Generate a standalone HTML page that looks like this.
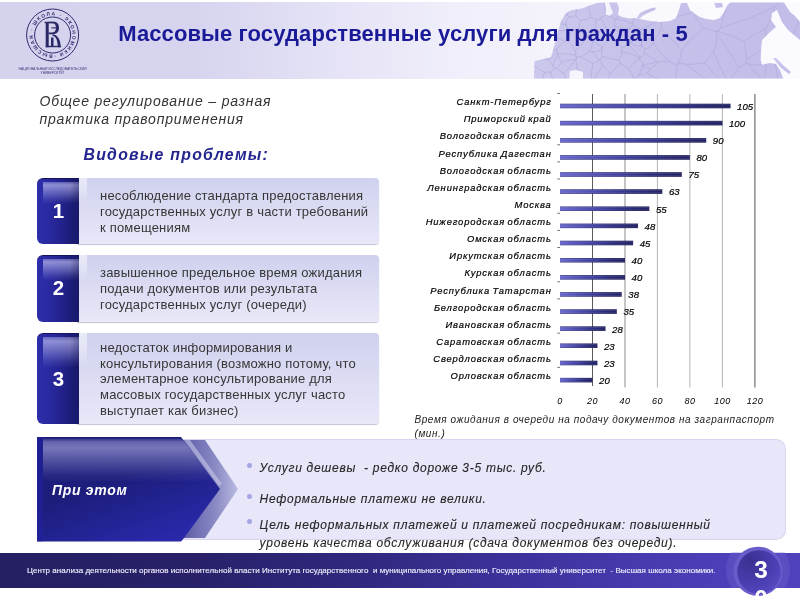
<!DOCTYPE html>
<html lang="ru"><head><meta charset="utf-8">
<title>Массовые государственные услуги для граждан - 5</title>
<style>
*{margin:0;padding:0;box-sizing:border-box}
html,body{width:800px;height:600px;overflow:hidden;background:#fff}
body{position:relative;font-family:"Liberation Sans",Arial,"Noto Sans CJK SC",sans-serif;color:#333}
.a{position:absolute;white-space:nowrap}
#hdr{left:0;top:2px;width:800px;height:76.5px;background:linear-gradient(90deg,#d5d2ee 0%,#d7d4f0 25%,#dfddf3 35%,#e8e6f7 46%,#efeefa 56%,#f3f2fb 66%,#f8f8fd 80%,#fafaff 100%)}
#title{left:118.2px;top:21.1px;font-size:22px;line-height:25px;font-weight:bold;color:#1a1a98;letter-spacing:0.11px}
#intro{left:39.5px;top:91.5px;font-size:14px;font-style:italic;line-height:18.6px;color:#333;letter-spacing:0.81px}
#vid{left:83.5px;top:145.6px;font-size:15.8px;line-height:18px;font-style:italic;font-weight:bold;color:#24248f;letter-spacing:1.27px}
.box{position:absolute;left:37px;width:342px}
.box .lt{position:absolute;left:40px;right:0;top:0;bottom:0;border-radius:0 4px 4px 0;background:linear-gradient(180deg,#cfd1ee 0%,#d9daf2 40%,#e9e8f9 100%);box-shadow:0 1px 1px rgba(120,120,170,.45)}
.box .lt:before{content:"";position:absolute;left:2.3px;top:0;width:8.2px;height:36%;background:linear-gradient(180deg,rgba(255,255,255,.55),rgba(255,255,255,.35) 50%,rgba(255,255,255,0))}
.box .bl{position:absolute;left:0;top:0;bottom:0;width:42.3px;border-radius:6px 0 0 6px;background:linear-gradient(90deg,#2e2eac 0%,#2a2aa2 25%,#232390 55%,#1b1b74 85%,#18186a 100%);border-top:1.5px solid #15155e;overflow:hidden}
.box .bl:before{content:"";position:absolute;left:5.7px;right:0;top:3px;height:34%;background:linear-gradient(90deg,rgba(20,20,90,0) 75%,rgba(20,20,90,.3) 100%),linear-gradient(180deg,rgba(196,196,245,.4) 0%,rgba(196,196,245,.66) 14%,rgba(180,180,238,.45) 45%,rgba(160,160,230,.15) 80%,rgba(150,150,220,0) 100%)}
.box .n{position:absolute;left:0.4px;width:42.3px;text-align:center;color:#fff;font-weight:bold;font-size:20.5px;line-height:20.5px}
.box .t{position:absolute;left:63px;font-size:13px;line-height:16.2px;color:#363636;letter-spacing:0.2px}
#chart text{font-family:"Liberation Sans",Arial,sans-serif;font-style:italic;fill:#000;stroke:#000;stroke-width:0.2px}
#chart .cl{font-size:9.4px;letter-spacing:0.85px;word-spacing:-1px}
#chart .vl{font-size:9.6px}
#chart .al{font-size:9px;letter-spacing:0.5px;stroke:none}
#cap{left:414.5px;top:413px;font-size:10px;font-style:italic;line-height:14px;color:#222;letter-spacing:0.57px}
.bt{position:absolute;font-size:12px;font-style:italic;color:#262626;letter-spacing:0.72px;white-space:nowrap;-webkit-text-stroke:0.12px #262626}
.dot{position:absolute;width:4.6px;height:4.6px;border-radius:50%;background:#a6a6e6}
#ftr{left:0;top:552.5px;width:800px;height:35.5px;background:linear-gradient(90deg,#251f63 0%,#28216a 25%,#30287e 45%,#3d329c 65%,#4a3db4 85%,#5042bc 100%)}
#ftxt{left:27px;top:566px;font-size:8px;line-height:10px;color:#eeeefc;letter-spacing:0.035px;-webkit-text-stroke:0.15px #eeeefc}
</style></head>
<body>
<div class="a" id="hdr"></div>

<!-- map of Russia (stylised) -->
<svg class="a" style="left:0;top:0" width="800" height="80" viewBox="0 0 800 80">
  <defs>
    <linearGradient id="mapg" x1="0" y1="0" x2="1" y2="0">
      <stop offset="0" stop-color="#cbc8ed"/>
      <stop offset="0.4" stop-color="#c6c2ea"/>
      <stop offset="1" stop-color="#c1bde8"/>
    </linearGradient>
    <clipPath id="mclip"><path d="M534 78.5 L534.5 61 L540 60 L545.5 58.5 L551 57 L554.5 45 L556 38 L558.5 30 L561 21 L566 13 L572 10 L582 8.5 L591 5 L597 3 L604 2.6 L617 2.6 L619 8 L618 15 L622 17 L630 18.5 L636 18 L640 19 L650 21 L660 22 L670 21 L676 18 L679 10 L681 3 L687 3 L690 10 L695 14 L700 17 L706 19 L714 20 L720 18 L724 12 L727 6 L730 2.5 L784 2.5 L790 12 L795 16 L800 22 L800 40 L788 30 L782 22 L777 10 L772 13 L771 20 L776 27 L770 32 L762 40 L761 50 L760.7 60 L762 65 L770 63 L776 64 L780 70 L783 78.5 L583 78.5 L583 72 L576 70 L569.5 71 L569.5 78.5 Z"/></clipPath>
  </defs>
  <path fill="url(#mapg)" d="M534 78.5 L534.5 61 L540 60 L545.5 58.5 L551 57 L554.5 45 L556 38 L558.5 30 L561 21 L566 13 L572 10 L582 8.5 L591 5 L597 3 L604 2.6 L617 2.6 L619 8 L618 15 L622 17 L630 18.5 L636 18 L640 19 L650 21 L660 22 L670 21 L676 18 L679 10 L681 3 L687 3 L690 10 L695 14 L700 17 L706 19 L714 20 L720 18 L724 12 L727 6 L730 2.5 L784 2.5 L790 12 L795 16 L800 22 L800 40 L788 30 L782 22 L777 10 L772 13 L771 20 L776 27 L770 32 L762 40 L761 50 L760.7 60 L762 65 L770 63 L776 64 L780 70 L783 78.5 L583 78.5 L583 72 L576 70 L569.5 71 L569.5 78.5 Z"/>
  <path fill="url(#mapg)" d="M773 58 L776 58 L784 66 L791 72 L789 74 L781 68 Z"/>
  <path fill="url(#mapg)" d="M636.8 18 L640 13 L646 10 L652 8 L656 7.5 L655 10 L649 12.5 L643 15.5 L639 19 Z"/>
  <path fill="url(#mapg)" d="M714 3 L722 3 L723 7 L716 8 Z"/>
  <path fill="#f6f5fc" d="M604 2 L609 2 L611 8 L613 13 L609 16 L605 15 L606 9 Z"/>
  <g fill="none" stroke="#aeaadb" stroke-width="0.6" clip-path="url(#mclip)"><path d="M897.9 40.0 L897.9 40.3 L900.0 40.0 M897.9 40.0 L880.1 27.0 L860.0 12.1 M940.0 0.0 L920.5 19.7 L900.0 40.0 M820.0 -3.2 L840.6 4.7 L860.0 12.1 M980.0 -40.0 L959.9 -19.2 L940.0 0.0 M695.3 -25.8 L693.4 -6.2 L693.6 12.2 M703.2 28.0 L697.3 20.3 L693.6 12.2 M720.2 28.3 L728.4 0.2 L736.7 -26.7 M703.2 28.0 L710.4 29.8 L716.6 31.7 M720.2 28.3 L718.9 30.9 L717.1 31.4 M716.6 31.7 L716.3 30.4 L717.1 31.4 M820.0 -3.2 L813.8 -2.9 L808.5 -3.5 M808.5 -3.5 L796.9 -6.4 L786.6 -7.7 M860.0 75.9 L879.9 58.3 L897.9 40.0 M832.0 89.7 L808.5 74.3 L785.3 57.1 M860.0 75.9 L845.6 83.2 L832.0 89.7 M808.5 -3.5 L796.2 26.6 L785.3 57.1 M720.2 28.3 L748.4 18.5 L775.1 6.6 M786.6 -7.7 L781.8 -0.8 L775.1 6.6 M744.7 41.1 L731.1 35.8 L717.1 31.4 M744.7 41.1 L754.5 34.6 L765.9 28.1 M775.1 6.6 L771.3 18.2 L765.9 28.1 M693.6 12.2 L677.3 16.6 L660.0 18.9 M660.0 18.9 L650.0 1.6 L641.0 -14.2 M980.0 120.0 L959.9 99.5 L940.0 80.0 M900.0 40.0 L919.3 59.8 L940.0 80.0 M631.0 43.0 L635.4 38.2 L639.1 33.5 M631.0 43.0 L635.8 45.5 L641.5 46.4 M639.1 33.5 L641.5 39.4 L641.6 45.6 M641.5 46.4 L640.5 44.9 L641.6 45.6 M661.4 28.7 L661.5 23.1 L659.8 19.7 M661.4 28.7 L658.0 34.9 L653.6 40.7 M659.8 19.7 L649.6 25.3 L640.3 29.5 M653.6 40.7 L647.8 38.1 L644.4 37.3 M644.4 37.3 L642.2 33.4 L640.2 31.9 M640.2 31.9 L641.0 30.0 L640.3 29.5 M703.2 28.0 L691.6 38.1 L681.7 50.3 M681.7 50.3 L671.9 39.4 L661.4 28.7 M660.0 18.9 L660.2 19.7 L659.8 19.7 M653.2 42.8 L649.8 47.3 L644.9 49.7 M653.2 42.8 L653.8 41.0 L653.6 40.7 M644.9 49.7 L643.1 47.3 L641.5 46.4 M641.6 45.6 L641.8 41.4 L644.4 37.3 M639.1 33.5 L640.2 31.9 L640.2 31.9 M686.4 64.7 L706.3 79.6 L727.3 95.3 M704.3 63.0 L695.8 63.9 L686.4 64.7 M704.3 63.0 L716.5 75.9 L728.2 87.6 M765.9 28.1 L766.0 37.1 L766.5 44.7 M785.3 57.1 L781.0 57.3 L774.7 59.5 M774.7 59.5 L771.7 52.7 L766.5 44.7 M784.7 106.5 L778.7 83.1 L774.5 59.9 M774.7 59.5 L774.9 60.7 L774.5 59.9 M744.7 41.1 L745.5 50.2 L746.9 58.9 M766.5 44.7 L757.6 52.5 L746.9 58.9 M678.3 63.1 L683.4 63.8 L686.4 64.7 M678.3 63.1 L678.1 62.9 L677.2 64.2 M673.7 86.0 L676.0 75.8 L677.2 64.2 M681.7 50.3 L680.4 57.2 L678.3 63.1 M653.2 42.8 L661.2 53.5 L670.6 62.3 M670.6 62.3 L675.0 64.4 L677.2 64.2 M637.2 -6.1 L635.1 9.7 L632.9 24.0 M637.2 -6.1 L626.1 7.4 L615.9 18.8 M615.9 18.8 L625.3 21.1 L632.9 24.0 M640.3 29.5 L635.8 27.2 L633.3 25.3 M632.9 24.0 L633.2 25.3 L633.3 25.3 M629.9 28.3 L631.6 25.7 L633.3 25.3 M629.9 28.3 L629.5 29.6 L627.6 32.9 M631.0 43.0 L630.6 42.5 L628.8 43.5 M627.6 32.9 L627.8 38.9 L628.8 43.5 M729.2 84.6 L733.2 75.2 L738.9 67.5 M729.2 84.6 L721.3 69.1 L713.3 52.5 M738.9 67.5 L728.7 50.9 L716.9 33.4 M713.3 52.5 L716.2 42.9 L716.9 33.4 M704.3 63.0 L709.9 56.7 L713.3 52.5 M728.2 87.6 L728.0 86.2 L729.2 84.6 M716.6 31.7 L716.2 33.1 L716.9 33.4 M746.9 58.9 L746.5 61.2 L745.4 63.4 M745.4 63.4 L743.0 65.6 L738.9 67.5 M763.6 80.8 L755.5 72.2 L748.2 64.1 M763.6 80.8 L765.6 73.4 L766.0 64.2 M766.0 64.2 L756.4 65.0 L748.2 64.1 M771.0 107.5 L768.4 94.2 L763.6 80.8 M745.4 63.4 L747.0 63.1 L748.2 64.1 M774.5 59.9 L770.3 62.0 L766.0 64.2 M673.7 86.0 L662.9 80.0 L651.6 76.4 M633.1 90.6 L643.5 83.5 L651.6 76.4 M622.1 47.5 L624.9 46.5 L628.1 44.1 M628.1 44.1 L634.1 50.6 L639.8 57.2 M621.7 52.1 L631.0 53.9 L639.3 57.9 M621.7 52.1 L622.0 49.6 L622.1 47.5 M639.3 57.9 L640.6 58.5 L639.8 57.2 M628.8 43.5 L627.9 43.8 L628.1 44.1 M644.9 49.7 L643.9 51.3 L644.7 53.2 M639.8 57.2 L643.0 56.1 L644.7 53.2 M541.4 26.5 L543.3 25.0 L545.4 24.4 M541.4 26.5 L539.4 24.4 L538.9 21.7 M545.4 24.4 L547.3 19.6 L547.2 16.5 M538.9 21.7 L540.2 17.0 L540.2 14.5 M540.2 14.5 L543.0 14.9 L547.2 16.5 M510.2 -16.4 L525.7 -1.4 L540.2 14.5 M504.3 36.0 L521.3 29.2 L538.9 21.7 M542.5 35.4 L545.9 33.7 L551.2 31.0 M542.5 35.4 L539.4 33.9 L538.1 32.4 M551.2 31.0 L545.6 28.4 L541.1 27.3 M538.1 32.4 L539.7 29.7 L541.1 27.3 M504.3 36.0 L520.9 34.0 L538.1 32.4 M541.4 26.5 L541.3 26.1 L541.1 27.3 M552.9 30.5 L551.3 31.0 L551.2 31.0 M552.9 30.5 L553.9 34.2 L554.2 37.8 M554.2 37.8 L552.7 40.8 L549.4 43.3 M542.5 35.4 L544.5 38.1 L544.7 42.1 M544.7 42.1 L547.7 43.4 L549.4 43.3 M615.9 18.8 L616.4 18.7 L614.8 19.4 M629.9 28.3 L622.1 28.2 L615.1 26.1 M615.1 26.1 L614.3 24.0 L614.8 19.4 M627.6 32.9 L621.8 31.1 L614.1 31.1 M615.1 26.1 L614.0 29.1 L614.1 31.1 M602.9 -25.0 L603.7 -6.1 L605.7 14.8 M605.7 14.8 L611.0 16.9 L614.8 19.4 M532.8 -25.1 L543.1 -7.4 L552.1 12.0 M547.2 16.5 L547.8 16.9 L548.9 16.3 M552.1 12.0 L549.3 13.5 L548.9 16.3 M569.9 -25.5 L565.5 -6.9 L560.2 9.8 M552.1 12.0 L557.3 10.0 L560.2 9.8 M579.2 -26.6 L573.2 -5.0 L567.2 15.4 M567.2 15.4 L564.5 14.4 L561.7 12.6 M560.2 9.8 L560.2 10.1 L561.7 12.6 M580.1 21.0 L576.9 17.1 L575.7 15.3 M580.1 21.0 L579.3 25.1 L578.3 29.1 M578.3 29.1 L574.1 30.0 L569.5 32.5 M569.1 16.6 L566.7 20.1 L565.7 25.1 M569.1 16.6 L573.2 17.1 L575.7 15.3 M565.7 25.1 L567.4 26.7 L567.0 30.1 M567.0 30.1 L567.2 32.4 L569.5 32.5 M581.3 -19.8 L578.4 -1.6 L575.7 15.3 M581.3 -19.8 L585.9 -1.2 L591.3 17.5 M591.3 17.5 L585.8 19.1 L580.1 21.0 M575.3 51.2 L571.7 44.8 L567.5 40.8 M567.5 40.8 L569.0 37.5 L569.5 32.5 M588.0 36.4 L582.4 32.7 L578.3 29.1 M588.0 36.4 L582.2 43.6 L575.3 51.2 M567.2 15.4 L567.4 15.2 L569.1 16.6 M603.0 56.6 L601.4 57.2 L599.8 60.2 M603.0 56.6 L612.0 59.0 L619.2 60.0 M599.8 60.2 L601.7 63.6 L602.7 65.4 M602.7 65.4 L606.7 69.5 L610.2 74.1 M610.2 74.1 L615.3 68.5 L620.0 62.9 M619.2 60.0 L620.7 62.2 L620.0 62.9 M601.1 105.0 L605.1 90.5 L610.2 74.1 M633.1 90.6 L634.0 85.7 L633.8 79.5 M628.7 68.7 L632.0 73.9 L633.8 79.5 M628.7 68.7 L625.3 66.7 L620.0 62.9 M621.7 52.1 L620.9 56.7 L619.2 60.0 M639.3 57.9 L639.8 58.2 L639.0 58.9 M628.7 68.7 L634.4 62.8 L639.0 58.9 M633.8 79.5 L636.2 77.3 L639.3 75.2 M651.6 76.4 L648.6 74.1 L647.9 72.5 M647.9 72.5 L643.9 74.2 L639.3 75.2 M534.1 109.9 L538.7 92.3 L544.6 72.6 M544.6 72.6 L548.0 71.9 L550.6 72.1 M560.1 108.1 L555.7 90.2 L550.6 72.1 M602.7 65.4 L597.2 74.2 L591.7 83.5 M589.2 104.8 L591.6 94.5 L591.7 83.5 M575.4 59.5 L570.0 67.1 L563.6 73.4 M575.4 59.5 L576.7 58.2 L575.7 59.3 M577.1 107.4 L570.6 91.0 L563.6 73.4 M585.1 105.6 L579.8 82.2 L575.7 59.3 M563.6 73.4 L558.9 70.0 L556.4 68.1 M575.4 59.5 L568.0 60.2 L561.2 62.9 M561.2 62.9 L558.2 66.5 L556.4 68.1 M550.6 72.1 L552.4 70.2 L553.9 68.2 M556.4 68.1 L556.3 68.3 L553.9 68.2 M622.1 47.5 L618.0 43.6 L611.5 39.0 M614.1 31.1 L613.4 32.9 L611.2 36.7 M611.5 39.0 L611.6 38.5 L611.2 36.7 M602.0 48.4 L601.4 53.6 L603.0 56.6 M602.0 48.4 L601.3 47.7 L602.2 47.1 M611.5 39.0 L606.1 43.0 L602.2 47.1 M548.9 16.3 L551.0 17.3 L552.6 20.3 M561.7 12.6 L561.6 15.8 L559.3 19.5 M559.3 19.5 L556.0 20.2 L552.6 20.3 M545.4 24.4 L548.8 26.4 L553.0 29.3 M552.6 20.3 L553.2 25.0 L553.0 29.3 M552.9 30.5 L552.5 30.7 L553.2 29.9 M553.0 29.3 L552.6 28.4 L553.2 29.9 M554.2 37.8 L559.0 38.5 L564.9 41.4 M564.9 41.4 L565.4 41.7 L567.5 40.8 M567.0 30.1 L560.1 30.9 L553.7 29.8 M553.2 29.9 L554.0 28.7 L553.7 29.8 M642.8 64.3 L650.9 63.8 L656.7 61.1 M642.8 64.3 L641.9 65.9 L643.0 65.6 M643.0 65.6 L646.4 67.1 L650.0 68.8 M650.0 68.8 L655.4 64.8 L658.5 62.0 M658.5 62.0 L657.6 62.6 L656.7 61.1 M639.0 58.9 L641.5 61.5 L642.8 64.3 M644.7 53.2 L651.8 57.9 L656.7 61.1 M639.3 75.2 L641.4 69.5 L643.0 65.6 M647.9 72.5 L649.2 70.5 L650.0 68.8 M670.6 62.3 L663.8 61.0 L658.5 62.0 M598.6 60.5 L595.3 55.2 L592.0 51.7 M598.6 60.5 L595.5 62.3 L592.8 63.3 M592.8 63.3 L586.6 59.7 L580.7 57.2 M580.7 57.2 L585.1 54.0 L589.2 51.2 M589.2 51.2 L591.2 51.6 L592.0 51.7 M602.0 48.4 L598.2 51.2 L592.0 51.7 M599.8 60.2 L599.7 59.7 L598.6 60.5 M591.7 83.5 L591.3 74.4 L592.8 63.3 M576.7 57.0 L576.9 58.4 L575.7 59.3 M576.7 57.0 L578.4 56.5 L580.7 57.2 M575.8 54.9 L576.0 53.2 L575.3 51.2 M592.3 41.5 L590.8 39.3 L588.8 36.5 M588.0 36.4 L589.0 35.7 L588.8 36.5 M575.8 54.9 L575.7 57.1 L576.7 57.0 M592.3 41.5 L591.7 47.3 L589.2 51.2 M602.2 47.1 L596.1 43.3 L592.3 41.5 M544.7 42.1 L541.0 44.4 L538.3 47.0 M538.3 47.0 L523.2 52.2 L507.4 59.3 M544.6 72.6 L534.5 66.3 L524.3 62.0 M549.4 43.3 L549.4 45.7 L551.4 47.2 M538.3 47.0 L542.7 49.8 L546.9 51.9 M551.4 47.2 L548.8 49.5 L546.9 51.9 M564.9 41.4 L559.8 45.4 L556.1 50.2 M551.4 47.2 L554.3 49.5 L556.1 50.2 M524.3 62.0 L534.0 59.5 L545.8 58.8 M546.9 51.9 L547.1 55.6 L545.8 58.8 M595.3 30.5 L602.8 32.4 L609.0 35.6 M595.3 30.5 L595.5 24.6 L596.1 19.9 M609.0 35.6 L605.5 26.4 L600.5 17.9 M596.1 19.9 L598.6 20.0 L600.5 17.9 M611.2 36.7 L609.7 36.2 L609.0 35.6 M588.8 36.5 L592.7 34.5 L595.3 30.5 M591.3 17.5 L593.5 18.4 L596.1 19.9 M605.7 14.8 L602.1 17.2 L600.5 17.9 M565.7 25.1 L560.7 23.9 L557.8 24.7 M565.7 25.1 L562.9 22.7 L559.8 20.3 M559.8 20.3 L559.2 22.0 L557.8 24.7 M565.7 25.1 L566.4 24.1 L565.7 25.1 M553.7 29.8 L555.0 27.6 L557.8 24.7 M559.3 19.5 L558.5 19.4 L559.8 20.3 M556.7 52.5 L553.2 56.6 L548.5 59.8 M556.7 52.5 L556.8 52.2 L558.0 53.7 M558.0 53.7 L557.8 54.9 L558.2 55.0 M558.2 55.0 L555.2 59.6 L552.8 66.0 M552.8 66.0 L551.2 63.1 L548.5 59.8 M556.1 50.2 L557.4 52.4 L556.7 52.5 M545.8 58.8 L548.1 59.1 L548.5 59.8 M575.8 54.9 L567.6 53.8 L558.0 53.7 M561.2 62.9 L559.3 58.7 L558.2 55.0 M553.9 68.2 L554.4 68.1 L552.8 66.0"/></g>
</svg>

<!-- logo -->
<svg class="a" style="left:0;top:0" width="110" height="80" viewBox="0 0 110 80">
  <defs><path id="ring" d="M52.6 54.7 A19.7 19.7 0 1 1 52.61 54.7"/></defs>
  <circle cx="52.6" cy="35" r="26" fill="none" stroke="#2d2b6e" stroke-width="1"/>
  <circle cx="52.6" cy="35" r="18" fill="none" stroke="#2d2b6e" stroke-width="1"/>
  <text font-family="Liberation Sans, sans-serif" font-size="4.9" font-weight="bold" fill="#2d2b6e"><textPath href="#ring" textLength="122" lengthAdjust="spacing">ВЫСШАЯ · ШКОЛА · ЭКОНОМИКИ ·</textPath></text>
  <g fill="#2a2866">
    <rect x="44.6" y="21.8" width="9.5" height="1.4"/>
    <rect x="45.7" y="22.5" width="3" height="24.8"/>
    <path d="M48.5 21.8 L53.5 21.8 C57.5 21.8 59 24.5 59 28 C59 31.5 56.8 34.2 52.5 34.2 L48.5 34.2 L48.5 32.4 L52.3 32.4 C54.8 32.4 55.9 30.5 55.9 28 C55.9 25.3 54.8 23.3 52.8 23.3 L48.5 23.3 Z"/>
    <rect x="51.3" y="27.3" width="4.8" height="1.1"/>
    <rect x="51" y="37.5" width="2.5" height="9.5"/>
    <path d="M52.5 34.2 C56.5 34.6 59.3 38 60.1 42 L60.9 47.2 L57.9 47.2 L57.3 42.2 C56.8 38.6 55.2 36.2 52.5 35.8 Z"/>
    <rect x="45.7" y="45.8" width="15.2" height="1.4"/>
  </g>
  <text x="52.6" y="69.6" text-anchor="middle" font-family="Liberation Sans, sans-serif" font-size="3.1" fill="#3a3878" textLength="68" lengthAdjust="spacingAndGlyphs">НАЦИОНАЛЬНЫЙ ИССЛЕДОВАТЕЛЬСКИЙ</text>
  <text x="52.6" y="73.8" text-anchor="middle" font-family="Liberation Sans, sans-serif" font-size="3.1" fill="#3a3878" textLength="24" lengthAdjust="spacingAndGlyphs">УНИВЕРСИТЕТ</text>
</svg>

<div class="a" id="title">Массовые государственные услуги для граждан - 5</div>

<div class="a" id="intro">Общее регулирование – разная<br>практика правоприменения</div>
<div class="a" id="vid">Видовые проблемы:</div>

<div class="box" style="top:177.6px;height:66.6px">
  <div class="lt"></div><div class="bl"></div>
  <div class="n" style="top:23.75px">1</div>
  <div class="t" style="top:10.7px;line-height:16px">несоблюдение стандарта предоставления<br>государственных услуг в части требований<br>к помещениям</div>
</div>
<div class="box" style="top:254.7px;height:67px">
  <div class="lt"></div><div class="bl"></div>
  <div class="n" style="top:23.3px">2</div>
  <div class="t" style="top:10px">завышенное предельное время ожидания<br>подачи документов или результата<br>государственных услуг (очереди)</div>
</div>
<div class="box" style="top:333.4px;height:91px">
  <div class="lt"></div><div class="bl"></div>
  <div class="n" style="top:36px">3</div>
  <div class="t" style="top:6.8px;line-height:15.6px">недостаток информирования и<br>консультирования (возможно потому, что<br>элементарное консультирование для<br>массовых государственных услуг часто<br>выступает как бизнес)</div>
</div>

<!-- CHART -->
<svg class="a" id="chart" style="left:0;top:0" width="800" height="420" viewBox="0 0 800 420">
  <defs>
    <linearGradient id="barg" x1="0" y1="0" x2="1" y2="0">
      <stop offset="0" stop-color="#5e5ecc"/>
      <stop offset="0.4" stop-color="#3a3aa4"/>
      <stop offset="0.75" stop-color="#1e1e74"/>
      <stop offset="1" stop-color="#121258"/>
    </linearGradient>
    <linearGradient id="barv" x1="0" y1="0" x2="0" y2="1">
      <stop offset="0" stop-color="#0c0c40" stop-opacity="0.55"/>
      <stop offset="0.4" stop-color="#fff" stop-opacity="0.08"/>
      <stop offset="0.6" stop-color="#fff" stop-opacity="0.05"/>
      <stop offset="1" stop-color="#0c0c40" stop-opacity="0.55"/>
    </linearGradient>
  </defs>
  <g id="chartbody">
  <line x1="592.5" y1="94" x2="592.5" y2="386" stroke="#5a5a5a" stroke-width="1"/>
  <line x1="625.0" y1="94" x2="625.0" y2="387.5" stroke="#8c8c8c" stroke-width="1"/>
  <line x1="657.4" y1="94" x2="657.4" y2="387.5" stroke="#b4b4b4" stroke-width="1"/>
  <line x1="689.9" y1="94" x2="689.9" y2="387.5" stroke="#b4b4b4" stroke-width="1"/>
  <line x1="722.4" y1="94" x2="722.4" y2="387.5" stroke="#b4b4b4" stroke-width="1"/>
  <line x1="754.9" y1="94" x2="754.9" y2="387.5" stroke="#7a7a7a" stroke-width="1.3"/>
  <rect x="560.0" y="103.8" width="170.5" height="4.4" fill="url(#barg)"/>
  <rect x="560.0" y="103.8" width="170.5" height="4.4" fill="url(#barv)"/>
  <text x="551.7" y="105.1" text-anchor="end" class="cl">Санкт-Петербург</text>
  <text x="737.1" y="109.8" class="vl">105</text>
  <rect x="560.0" y="120.9" width="162.4" height="4.4" fill="url(#barg)"/>
  <rect x="560.0" y="120.9" width="162.4" height="4.4" fill="url(#barv)"/>
  <text x="551.7" y="122.2" text-anchor="end" class="cl">Приморский край</text>
  <text x="729.0" y="126.9" class="vl">100</text>
  <rect x="560.0" y="138.1" width="146.2" height="4.4" fill="url(#barg)"/>
  <rect x="560.0" y="138.1" width="146.2" height="4.4" fill="url(#barv)"/>
  <text x="551.7" y="139.4" text-anchor="end" class="cl">Вологодская область</text>
  <text x="712.8" y="144.1" class="vl">90</text>
  <rect x="560.0" y="155.2" width="129.9" height="4.4" fill="url(#barg)"/>
  <rect x="560.0" y="155.2" width="129.9" height="4.4" fill="url(#barv)"/>
  <text x="551.7" y="156.5" text-anchor="end" class="cl">Республика Дагестан</text>
  <text x="696.5" y="161.2" class="vl">80</text>
  <rect x="560.0" y="172.3" width="121.8" height="4.4" fill="url(#barg)"/>
  <rect x="560.0" y="172.3" width="121.8" height="4.4" fill="url(#barv)"/>
  <text x="551.7" y="173.6" text-anchor="end" class="cl">Вологодская область</text>
  <text x="688.4" y="178.3" class="vl">75</text>
  <rect x="560.0" y="189.4" width="102.3" height="4.4" fill="url(#barg)"/>
  <rect x="560.0" y="189.4" width="102.3" height="4.4" fill="url(#barv)"/>
  <text x="551.7" y="190.8" text-anchor="end" class="cl">Ленинградская область</text>
  <text x="668.9" y="195.4" class="vl">63</text>
  <rect x="560.0" y="206.6" width="89.3" height="4.4" fill="url(#barg)"/>
  <rect x="560.0" y="206.6" width="89.3" height="4.4" fill="url(#barv)"/>
  <text x="551.7" y="207.9" text-anchor="end" class="cl">Москва</text>
  <text x="655.9" y="212.6" class="vl">55</text>
  <rect x="560.0" y="223.7" width="78.0" height="4.4" fill="url(#barg)"/>
  <rect x="560.0" y="223.7" width="78.0" height="4.4" fill="url(#barv)"/>
  <text x="551.7" y="225.0" text-anchor="end" class="cl">Нижегородская область</text>
  <text x="644.6" y="229.7" class="vl">48</text>
  <rect x="560.0" y="240.8" width="73.1" height="4.4" fill="url(#barg)"/>
  <rect x="560.0" y="240.8" width="73.1" height="4.4" fill="url(#barv)"/>
  <text x="551.7" y="242.1" text-anchor="end" class="cl">Омская область</text>
  <text x="639.7" y="246.8" class="vl">45</text>
  <rect x="560.0" y="258.0" width="65.0" height="4.4" fill="url(#barg)"/>
  <rect x="560.0" y="258.0" width="65.0" height="4.4" fill="url(#barv)"/>
  <text x="551.7" y="259.3" text-anchor="end" class="cl">Иркутская область</text>
  <text x="631.6" y="264.0" class="vl">40</text>
  <rect x="560.0" y="275.1" width="65.0" height="4.4" fill="url(#barg)"/>
  <rect x="560.0" y="275.1" width="65.0" height="4.4" fill="url(#barv)"/>
  <text x="551.7" y="276.4" text-anchor="end" class="cl">Курская область</text>
  <text x="631.6" y="281.1" class="vl">40</text>
  <rect x="560.0" y="292.2" width="61.7" height="4.4" fill="url(#barg)"/>
  <rect x="560.0" y="292.2" width="61.7" height="4.4" fill="url(#barv)"/>
  <text x="551.7" y="293.5" text-anchor="end" class="cl">Республика Татарстан</text>
  <text x="628.3" y="298.2" class="vl">38</text>
  <rect x="560.0" y="309.4" width="56.8" height="4.4" fill="url(#barg)"/>
  <rect x="560.0" y="309.4" width="56.8" height="4.4" fill="url(#barv)"/>
  <text x="551.7" y="310.7" text-anchor="end" class="cl">Белгородская область</text>
  <text x="623.4" y="315.4" class="vl">35</text>
  <rect x="560.0" y="326.5" width="45.5" height="4.4" fill="url(#barg)"/>
  <rect x="560.0" y="326.5" width="45.5" height="4.4" fill="url(#barv)"/>
  <text x="551.7" y="327.8" text-anchor="end" class="cl">Ивановская область</text>
  <text x="612.1" y="332.5" class="vl">28</text>
  <rect x="560.0" y="343.6" width="37.4" height="4.4" fill="url(#barg)"/>
  <rect x="560.0" y="343.6" width="37.4" height="4.4" fill="url(#barv)"/>
  <text x="551.7" y="344.9" text-anchor="end" class="cl">Саратовская область</text>
  <text x="604.0" y="349.6" class="vl">23</text>
  <rect x="560.0" y="360.8" width="37.4" height="4.4" fill="url(#barg)"/>
  <rect x="560.0" y="360.8" width="37.4" height="4.4" fill="url(#barv)"/>
  <text x="551.7" y="362.1" text-anchor="end" class="cl">Свердловская область</text>
  <text x="604.0" y="366.8" class="vl">23</text>
  <rect x="560.0" y="377.9" width="32.5" height="4.4" fill="url(#barg)"/>
  <rect x="560.0" y="377.9" width="32.5" height="4.4" fill="url(#barv)"/>
  <text x="551.7" y="379.2" text-anchor="end" class="cl">Орловская область</text>
  <text x="599.1" y="383.9" class="vl">20</text>
  <text x="560.0" y="403.6" text-anchor="middle" class="al">0</text>
  <text x="592.5" y="403.6" text-anchor="middle" class="al">20</text>
  <text x="625.0" y="403.6" text-anchor="middle" class="al">40</text>
  <text x="657.4" y="403.6" text-anchor="middle" class="al">60</text>
  <text x="689.9" y="403.6" text-anchor="middle" class="al">80</text>
  <text x="722.4" y="403.6" text-anchor="middle" class="al">100</text>
  <text x="754.9" y="403.6" text-anchor="middle" class="al">120</text>
  <line x1="557.3" y1="93.5" x2="560" y2="93.5" stroke="#666" stroke-width="0.9"/>
  <line x1="557.3" y1="144.8" x2="560" y2="144.8" stroke="#666" stroke-width="0.9"/>
  <line x1="557.3" y1="161.9" x2="560" y2="161.9" stroke="#666" stroke-width="0.9"/>
  <line x1="557.3" y1="179.0" x2="560" y2="179.0" stroke="#666" stroke-width="0.9"/>
  <line x1="557.3" y1="213.3" x2="560" y2="213.3" stroke="#666" stroke-width="0.9"/>
  <line x1="557.3" y1="230.4" x2="560" y2="230.4" stroke="#666" stroke-width="0.9"/>
  <line x1="557.3" y1="247.5" x2="560" y2="247.5" stroke="#666" stroke-width="0.9"/>
  <line x1="557.3" y1="281.8" x2="560" y2="281.8" stroke="#666" stroke-width="0.9"/>
  <line x1="557.3" y1="298.9" x2="560" y2="298.9" stroke="#666" stroke-width="0.9"/>
  <line x1="557.3" y1="333.2" x2="560" y2="333.2" stroke="#666" stroke-width="0.9"/>
  <line x1="557.3" y1="367.4" x2="560" y2="367.4" stroke="#666" stroke-width="0.9"/>
  </g>
</svg>

<div class="a" id="cap">Время ожидания в очереди на подачу документов на загранпаспорт<br>(мин.)</div>

<!-- При этом -->
<div class="a" style="left:182px;top:440px;width:603px;height:98.7px;border-radius:0 9px 9px 0;background:#e8e7fa;box-shadow:0 0 0 1px #d6d5f0"></div>
<svg class="a" style="left:30px;top:430px" width="220" height="120" viewBox="30 430 220 120">
  <defs>
    <linearGradient id="prig" x1="0" y1="0" x2="0.6" y2="1">
      <stop offset="0" stop-color="#1c1c7a"/>
      <stop offset="0.5" stop-color="#1d1d7c"/>
      <stop offset="1" stop-color="#2828a8"/>
    </linearGradient>
    <linearGradient id="prigl" x1="0" y1="0" x2="0" y2="1">
      <stop offset="0" stop-color="#c8c8f4" stop-opacity="0.12"/>
      <stop offset="0.08" stop-color="#c8c8f4" stop-opacity="0.42"/>
      <stop offset="0.22" stop-color="#c8c8f4" stop-opacity="0.52"/>
      <stop offset="0.5" stop-color="#c8c8f4" stop-opacity="0.32"/>
      <stop offset="0.85" stop-color="#c8c8f4" stop-opacity="0.08"/>
      <stop offset="1" stop-color="#c8c8f4" stop-opacity="0.02"/>
    </linearGradient>
    <linearGradient id="chev" x1="0" y1="0" x2="1" y2="0">
      <stop offset="0" stop-color="#5a5aa8"/>
      <stop offset="0.6" stop-color="#8a8ac4"/>
      <stop offset="1" stop-color="#babae2"/>
    </linearGradient>
  </defs>
  <path d="M182 440 L205 440 L238 489 L205 538 L182 538 Z" fill="url(#chev)"/>
  <path d="M184 440 L190 440 L222 484 L219 486 Z" fill="#c8c8ea" opacity="0.6"/>
  <path d="M37 437 L181 437 L184 441 L220 489 L184 538 L181 541.4 L37 541.4 Z" fill="url(#prig)"/>
  <path d="M43 438.5 L181 438.5 L184 441 L214 481 L43 481 Z" fill="url(#prigl)"/>
  <rect x="37" y="437" width="6" height="104.4" fill="#2222a0" opacity="0.6"/>
</svg>
<div class="a" style="left:52px;top:481px;font-size:14px;line-height:18px;font-weight:bold;font-style:italic;color:#fff;letter-spacing:0.7px">При этом</div>

<div class="dot" style="left:247.2px;top:463px"></div>
<div class="dot" style="left:247.2px;top:494.2px"></div>
<div class="dot" style="left:247.2px;top:519.2px"></div>
<div class="bt" style="left:259.6px;top:460.5px;line-height:14px">Услуги дешевы &nbsp;- редко дороже 3-5 тыс. руб.</div>
<div class="bt" style="left:259.6px;top:491.9px;line-height:14px">Неформальные платежи не велики.</div>
<div class="bt" style="left:259.6px;top:515.8px;line-height:18px">Цель неформальных платежей и платежей посредникам: повышенный<br>уровень качества обслуживания (сдача документов без очереди).</div>

<!-- footer -->
<div class="a" id="ftr"></div>
<svg class="a" style="left:720px;top:540px" width="80" height="60" viewBox="720 540 80 60">
  <defs>
    <radialGradient id="pg" cx="0.3" cy="0.25" r="0.9">
      <stop offset="0" stop-color="#3a3090"/>
      <stop offset="0.6" stop-color="#4a3eb2"/>
      <stop offset="1" stop-color="#5a4cc6"/>
    </radialGradient>
    <clipPath id="fclip"><rect x="720" y="552.5" width="80" height="35.5"/></clipPath>
  </defs>
  <circle cx="758" cy="570" r="32" fill="#6658c8" opacity="0.55" clip-path="url(#fclip)"/>
  <circle cx="758" cy="571.3" r="24.6" fill="#6a5cca"/>
  <circle cx="759" cy="572" r="21.8" fill="url(#pg)"/>
</svg>
<div class="a" style="left:754.2px;top:555.3px;font-size:24.4px;font-weight:bold;color:#fff;line-height:29px">3<br>0</div>
<div class="a" id="ftxt">Центр анализа деятельности органов исполнительной власти Института государственного &nbsp;и муниципального управления, Государственный университет &nbsp;- Высшая школа экономики.</div>

</body></html>
